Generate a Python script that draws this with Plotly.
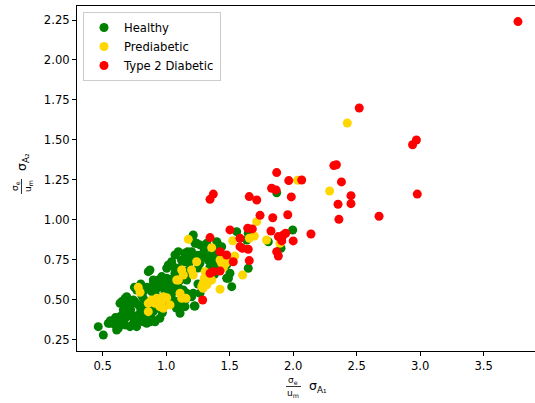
import plotly.graph_objects as go

# Group measurements: x = (sigma_e/u_m) * sigma_A1, y = (sigma_e/u_m) * sigma_A2
healthy_x = [0.465, 0.505, 0.544, 0.583, 0.61, 0.623, 0.636, 0.65, 0.676, 0.689, 0.636, 0.676, 0.689, 0.728,
             0.662, 0.702, 0.728, 0.754, 0.78, 0.807, 0.833, 0.754, 0.78, 0.82, 0.833, 0.859, 0.872, 0.898,
             0.925, 0.95, 0.886, 0.912, 0.99, 1.017, 1.043, 1.004, 1.017, 1.043, 0.965, 1.004, 1.056, 1.069,
             1.095, 0.82, 0.846, 0.872, 0.886, 0.912, 0.95, 1.109, 0.676, 0.715, 0.741, 0.767, 1.069, 1.095,
             1.148, 1.169, 1.209, 1.227, 1.187, 1.148, 0.938, 0.977, 0.951, 0.912, 0.767, 0.807, 0.82, 0.65,
             0.689, 0.715, 0.741, 0.557, 0.597, 0.623, 0.662, 0.78, 0.859, 0.886, 0.925, 1.148, 1.227, 1.516,
             1.476, 1.502, 1.398, 1.418, 1.45, 1.476, 1.555, 1.358, 1.371, 1.266, 1.292, 1.331, 1.266, 1.319,
             1.371, 1.043, 1.069, 1.109, 1.161, 1.213, 1.266, 1.03, 1.213, 1.24, 1.2, 1.056, 1.41, 1.437,
             1.463, 1.476, 1.49, 1.345, 1.384, 1.095, 1.135, 1.161, 1.2, 1.043, 1.083, 1.109, 1.221, 1.646,
             1.634, 1.87, 1.996, 1.804, 1.904, 1.646, 1.292, 1.319, 1.345,
             0.72, 0.8, 0.86, 0.9, 0.97, 1.0, 0.95, 1.0, 0.6, 0.56, 0.7, 0.85, 0.9, 1.1, 1.15, 1.2, 1.25,
             1.12, 1.18, 1.25, 1.3, 1.35, 1.4, 1.42, 1.38, 1.3, 1.25, 1.05, 1.15, 1.08, 0.8, 0.75]
healthy_y = [0.333, 0.281, 0.354, 0.364, 0.3125, 0.333, 0.396, 0.364, 0.385, 0.417, 0.479, 0.51, 0.469, 0.479,
             0.4375, 0.427, 0.406, 0.375, 0.406, 0.396, 0.385, 0.49, 0.469, 0.51, 0.469, 0.677, 0.6875, 0.625,
             0.573, 0.583, 0.552, 0.542, 0.552, 0.583, 0.573, 0.698, 0.719, 0.739, 0.646, 0.636, 0.636, 0.667,
             0.667, 0.364, 0.354, 0.364, 0.385, 0.364, 0.385, 0.417, 0.344, 0.333, 0.354, 0.333, 0.781, 0.802,
             0.792, 0.802, 0.896, 0.854, 0.771, 0.739, 0.625, 0.615, 0.588, 0.594, 0.5625, 0.531, 0.552, 0.49,
             0.52, 0.469, 0.5, 0.354, 0.344, 0.323, 0.354, 0.375, 0.4375, 0.469, 0.458, 0.458, 0.4625, 0.583,
             0.636, 0.667, 0.864, 0.833, 0.781, 0.771, 0.927, 0.6875, 0.719, 0.729, 0.771, 0.75, 0.844, 0.854,
             0.8125, 0.625, 0.583, 0.625, 0.625, 0.542, 0.542, 0.5625, 0.906, 0.854, 0.802, 0.708, 0.844, 0.833,
             0.75, 0.719, 0.636, 0.708, 0.719, 0.583, 0.5625, 0.542, 0.52, 0.51, 0.49, 0.4625, 0.4625, 0.917,
             0.875, 1.17, 0.9375, 0.864, 0.823, 0.698, 0.792, 0.771, 0.75,
             0.44, 0.44, 0.41, 0.43, 0.42, 0.47, 0.5, 0.52, 0.39, 0.37, 0.4, 0.58, 0.61, 0.7, 0.68, 0.66, 0.7,
             0.75, 0.73, 0.78, 0.82, 0.78, 0.77, 0.72, 0.66, 0.6, 0.6, 0.55, 0.5, 0.45, 0.6, 0.58]

prediabetic_x = [2.426, 2.035, 2.287, 1.713, 1.694, 1.655, 1.524, 1.358, 1.174, 1.602, 1.424, 1.896, 1.79,
                 1.24, 1.424, 1.437, 1.122, 1.135, 1.2, 1.213, 1.306, 1.3, 1.29, 1.33, 1.358, 1.28,
                 0.977, 0.95, 0.886, 0.912, 1.156, 0.78, 0.794, 0.859, 0.859, 0.925,
                 0.965, 1.004, 1.03, 0.977, 1.083, 1.109, 1.122, 1.468, 1.45, 1.32, 1.29, 1.096, 1.47, 1.54]
prediabetic_y = [1.606, 1.248, 1.181, 0.99, 0.9, 0.886, 0.87, 0.827, 0.879, 0.656, 0.567, 0.854, 0.875,
                 0.739, 0.75, 0.729, 0.6875, 0.656, 0.6875, 0.656, 0.677, 0.636, 0.604, 0.614, 0.625, 0.583,
                 0.52, 0.458, 0.5, 0.479, 0.51, 0.579, 0.548, 0.479, 0.427, 0.51,
                 0.49, 0.514, 0.469, 0.448, 0.625, 0.542, 0.51, 0.729, 0.704, 0.594, 0.573, 0.625, 0.75, 0.775]

diabetic_x = [3.77, 2.52, 2.94, 2.97, 2.32, 2.34, 1.965, 2.067, 2.38, 1.985, 2.455, 2.455, 2.353, 2.977,
              1.957, 2.36, 2.676, 2.14, 1.87, 1.371, 1.345, 1.654, 1.713, 1.83, 1.865, 1.739, 1.839, 1.502,
              1.642, 1.678, 1.825, 1.883, 1.922, 1.941, 2.0, 1.91, 1.87, 1.883, 1.345, 1.581, 1.581, 1.6,
              1.424, 1.476, 1.528, 1.654, 1.646, 1.371, 1.424, 1.345, 1.287]
diabetic_y = [2.24, 1.70, 1.47, 1.50, 1.34, 1.345, 1.246, 1.25, 1.238, 1.144, 1.152, 1.102, 1.098, 1.162,
              1.033, 1.004, 1.023, 0.912, 1.296, 1.162, 1.129, 1.146, 1.125, 1.198, 1.188, 1.029, 1.014, 0.938,
              0.948, 0.944, 0.931, 0.896, 0.906, 0.917, 0.869, 0.869, 0.802, 0.775, 0.89, 0.886, 0.833, 0.823,
              0.802, 0.781, 0.739, 0.746, 0.817, 0.677, 0.681, 0.667, 0.5]

group_names = ["Healthy", "Prediabetic", "Type 2 Diabetic"]
group_colors = ["#008000", "#FFD700", "#FF0000"]

x_ticks = [0.5, 1.0, 1.5, 2.0, 2.5, 3.0, 3.5]
y_ticks = [0.25, 0.50, 0.75, 1.00, 1.25, 1.50, 1.75, 2.00, 2.25]

W, H = 535, 403
L, R, T, B = 77, 0, 6, 52
pw, ph = W - L - R, H - T - B
FONT = "DejaVu Sans"
FS = 11.6


def px(x):
    return (x - L) / pw


def py(y):
    return (H - B - y) / ph


fig = go.Figure()
for name, color, xs, ys in zip(group_names, group_colors,
                               [healthy_x, prediabetic_x, diabetic_x],
                               [healthy_y, prediabetic_y, diabetic_y]):
    fig.add_trace(go.Scatter(x=xs, y=ys, mode="markers", name=name,
                             marker=dict(color=color, size=9, line=dict(width=0))))

axis_common = dict(showgrid=False, zeroline=False, showline=True, linecolor="black", linewidth=1,
                   ticks="outside", ticklen=4, tickwidth=1, tickcolor="black",
                   tickfont=dict(family=FONT, size=FS, color="black"))
fig.update_xaxes(range=[0.2976, 3.904], tickvals=x_ticks, ticktext=[f"{v:.1f}" for v in x_ticks],
                 mirror=True, **axis_common)
fig.update_yaxes(range=[0.181, 2.3375], tickvals=y_ticks, ticktext=[f"{v:.2f}" for v in y_ticks],
                 mirror=False, **axis_common)

annots = []
shapes = []
sub_font = dict(family=FONT, size=9, color="black")
main_font = dict(family=FONT, size=12.5, color="black")

# x axis label: (sigma_e / u_m) sigma_A1
annots.append(dict(x=px(293), y=py(380), text="σ<sub>e</sub>", font=sub_font))
annots.append(dict(x=px(293), y=py(393), text="u<sub>m</sub>", font=sub_font))
shapes.append(dict(type="line", xref="paper", yref="paper", x0=px(286), x1=px(301), y0=py(386.5), y1=py(386.5),
                   line=dict(color="black", width=0.8)))
annots.append(dict(x=px(318), y=py(386), text="σ<sub>A₁</sub>", font=main_font))

# y axis label: (sigma_e / u_m) sigma_A2, rotated
annots.append(dict(x=px(15), y=py(186), text="σ<sub>e</sub>", font=sub_font, textangle=-90))
annots.append(dict(x=px(28), y=py(186), text="u<sub>m</sub>", font=sub_font, textangle=-90))
shapes.append(dict(type="line", xref="paper", yref="paper", x0=px(21.5), x1=px(21.5), y0=py(179), y1=py(194),
                   line=dict(color="black", width=0.8)))
annots.append(dict(x=px(22), y=py(163), text="σ<sub>A₂</sub>", font=main_font, textangle=-90))

for a in annots:
    a.update(xref="paper", yref="paper", showarrow=False, xanchor="center", yanchor="middle")

fig.update_layout(
    width=W, height=H,
    margin=dict(l=L, r=R, t=T, b=B),
    paper_bgcolor="white", plot_bgcolor="white",
    font=dict(family=FONT, size=FS, color="black"),
    annotations=annots, shapes=shapes,
    legend=dict(x=px(83), y=py(12), xanchor="left", yanchor="top",
                bgcolor="rgba(255,255,255,0.8)", bordercolor="#cccccc", borderwidth=1,
                font=dict(family=FONT, size=FS, color="black"), tracegroupgap=0),
)

fig.write_html("out.html")
